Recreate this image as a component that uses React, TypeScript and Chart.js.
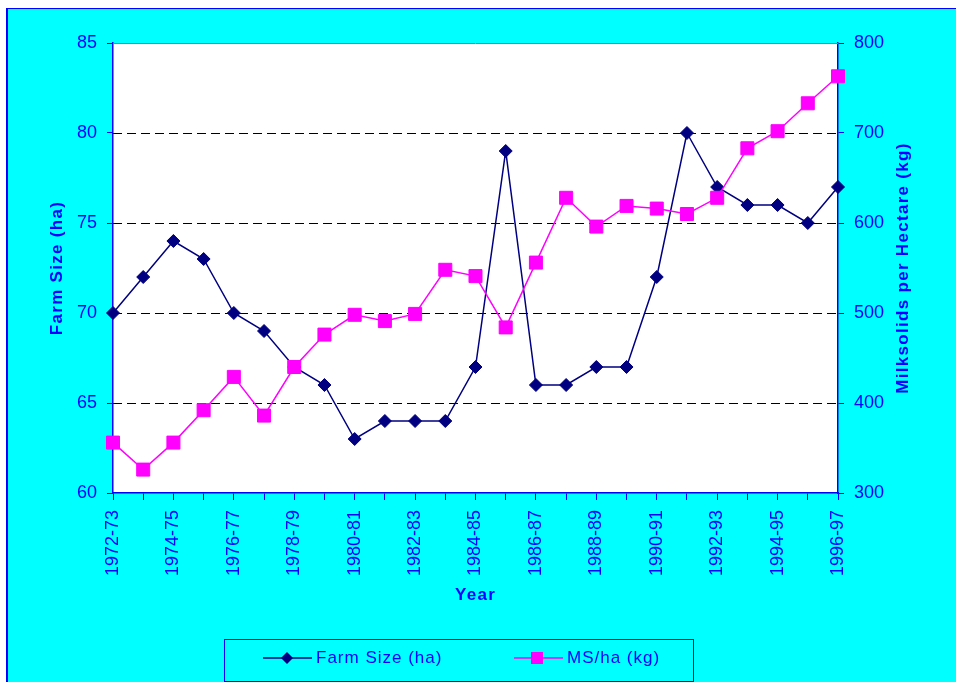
import React, { useEffect, useRef } from 'react';
import { Chart, registerables } from 'chart.js';
Chart.register(...registerables);

const years = [
  '1972-73', '1973-74', '1974-75', '1975-76', '1976-77', '1977-78', '1978-79',
  '1979-80', '1980-81', '1981-82', '1982-83', '1983-84', '1984-85', '1985-86',
  '1986-87', '1987-88', '1988-89', '1989-90', '1990-91', '1991-92', '1992-93',
  '1993-94', '1994-95', '1995-96', '1996-97',
];
const farmSize = [70, 72, 74, 73, 70, 69, 67, 66, 63, 64, 64, 64, 67, 79, 66, 66, 67, 67, 72, 80, 77, 76, 76, 75, 77];
const msPerHa = [356, 326, 356, 392, 429, 386, 440, 476, 498, 491, 499, 548, 541, 484, 556, 628, 596, 619, 616, 610, 628, 683, 702, 733, 763];
const farmTicks = [60, 65, 70, 75, 80, 85];
const msTicks = [300, 400, 500, 600, 700, 800];
const dashedGridValues = [65, 70, 75, 80];

const NAVY = '#000080';
const MAGENTA = '#FF00FF';
const BLUE = '#0000FF';
const FONT = '"Liberation Sans", Arial, sans-serif';

const decor = {
  id: 'decor',
  beforeDraw(chart: any) {
    const { ctx, chartArea: a } = chart;
    ctx.save();
    ctx.fillStyle = '#ffffff';
    ctx.fillRect(a.left, a.top, a.right - a.left, a.bottom - a.top);
    ctx.restore();
  },
  beforeDatasetsDraw(chart: any) {
    const { ctx, chartArea: a } = chart;
    const y = chart.scales.y;
    ctx.save();
    ctx.strokeStyle = '#000000';
    ctx.lineWidth = 1;
    ctx.setLineDash([9, 5]);
    for (const v of dashedGridValues) {
      const py = Math.round(y.getPixelForValue(v)) + 0.5;
      ctx.beginPath();
      ctx.moveTo(a.left, py);
      ctx.lineTo(a.right, py);
      ctx.stroke();
    }
    ctx.setLineDash([]);
    ctx.strokeStyle = '#808080';
    ctx.beginPath();
    ctx.moveTo(a.left, a.top + 0.5);
    ctx.lineTo(a.right, a.top + 0.5);
    ctx.stroke();
    ctx.restore();
  },
  afterDraw(chart: any) {
    const { ctx, chartArea: a } = chart;
    ctx.save();
    ctx.fillStyle = BLUE;
    ctx.font = `bold 17px ${FONT}`;
    (ctx as any).letterSpacing = '1.3px';
    ctx.textAlign = 'center';
    ctx.textBaseline = 'middle';
    const cy = (a.top + a.bottom) / 2;
    ctx.fillText('Year', (a.left + a.right) / 2, 586);
    ctx.save();
    ctx.translate(49, cy);
    ctx.rotate(-Math.PI / 2);
    ctx.fillText('Farm Size (ha)', 0, 0);
    ctx.restore();
    ctx.save();
    ctx.translate(895, cy);
    ctx.rotate(-Math.PI / 2);
    ctx.fillText('Milksolids per Hectare (kg)', 0, 0);
    ctx.restore();

    // legend
    const lx = 216, ly = 630, lw = 469, lh = 42;
    ctx.strokeStyle = BLUE;
    ctx.lineWidth = 1;
    ctx.strokeRect(lx + 0.5, ly + 0.5, lw, lh);
    const my = 649;
    ctx.strokeStyle = NAVY;
    ctx.lineWidth = 1.5;
    ctx.beginPath();
    ctx.moveTo(255, my);
    ctx.lineTo(304, my);
    ctx.stroke();
    ctx.fillStyle = NAVY;
    ctx.beginPath();
    ctx.moveTo(279, my - 6);
    ctx.lineTo(285, my);
    ctx.lineTo(279, my + 6);
    ctx.lineTo(273, my);
    ctx.closePath();
    ctx.fill();
    ctx.strokeStyle = MAGENTA;
    ctx.beginPath();
    ctx.moveTo(506, my);
    ctx.lineTo(555, my);
    ctx.stroke();
    ctx.fillStyle = MAGENTA;
    ctx.fillRect(523, my - 6, 12, 12);

    ctx.fillStyle = BLUE;
    ctx.font = `17px ${FONT}`;
    (ctx as any).letterSpacing = '1px';
    ctx.textAlign = 'left';
    ctx.fillText(chart.data.datasets[0].label, 308, my);
    ctx.fillText(chart.data.datasets[1].label, 559, my);
    ctx.restore();
  },
};

export default function App() {
  const ref = useRef<HTMLCanvasElement | null>(null);
  useEffect(() => {
    if (!ref.current) return;
    const chart = new Chart(ref.current, {
      type: 'line',
      data: {
        labels: years,
        datasets: [
          {
            label: 'Farm Size (ha)',
            data: farmSize,
            yAxisID: 'y',
            borderColor: NAVY,
            backgroundColor: NAVY,
            borderWidth: 1.5,
            pointStyle: 'rectRot',
            pointRadius: 6.5,
            pointBorderWidth: 1,
            pointBackgroundColor: NAVY,
            pointBorderColor: NAVY,
            tension: 0,
            order: 1,
          },
          {
            label: 'MS/ha (kg)',
            data: msPerHa,
            yAxisID: 'y1',
            borderColor: MAGENTA,
            backgroundColor: MAGENTA,
            borderWidth: 1.5,
            pointStyle: 'rect',
            pointRadius: 9.2,
            pointBorderWidth: 1,
            pointBackgroundColor: MAGENTA,
            pointBorderColor: MAGENTA,
            tension: 0,
            order: 0,
          },
        ],
      },
      options: {
        responsive: false,
        animation: false,
        layout: { padding: { top: 34, bottom: 89, left: 0, right: 0 } },
        plugins: { legend: { display: false }, tooltip: { enabled: false } },
        scales: {
          x: {
            type: 'category',
            offset: false,
            afterFit: (s: any) => { s.height = 100; },
            grid: { drawOnChartArea: false, drawTicks: true, tickLength: 7, tickColor: BLUE },
            border: { color: BLUE, width: 1.5 },
            ticks: {
              autoSkip: false,
              maxRotation: 90,
              minRotation: 90,
              padding: 10,
              color: BLUE,
              font: { family: FONT, size: 18 },
              callback: (_v: any, i: number) => (i % 2 === 0 ? years[i] : ''),
            },
          },
          y: {
            position: 'left',
            min: farmTicks[0],
            max: farmTicks[farmTicks.length - 1],
            afterFit: (s: any) => { s.width = 105; },
            afterBuildTicks: (s: any) => { s.ticks = farmTicks.map((v) => ({ value: v })); },
            grid: { drawOnChartArea: false, tickLength: 6, tickColor: BLUE },
            border: { color: BLUE, width: 1.5 },
            ticks: { color: BLUE, padding: 10, font: { family: FONT, size: 18 } },
          },
          y1: {
            position: 'right',
            min: msTicks[0],
            max: msTicks[msTicks.length - 1],
            afterFit: (s: any) => { s.width = 118; },
            afterBuildTicks: (s: any) => { s.ticks = msTicks.map((v) => ({ value: v })); },
            grid: { drawOnChartArea: false, tickLength: 6, tickColor: BLUE },
            border: { color: BLUE, width: 1.5 },
            ticks: { color: BLUE, padding: 10, font: { family: FONT, size: 18 } },
          },
        },
      },
      plugins: [decor],
    });
    return () => chart.destroy();
  }, []);

  return (
    <div
      style={{
        position: 'fixed',
        left: 6,
        top: 8,
        width: 950,
        height: 674,
        boxSizing: 'border-box',
        background: '#00FFFF',
        borderTop: '1px solid #0000FF',
        borderLeft: '2px solid #0000FF',
      }}
    >
      <canvas ref={ref} width={948} height={673} style={{ display: 'block' }} />
    </div>
  );
}
